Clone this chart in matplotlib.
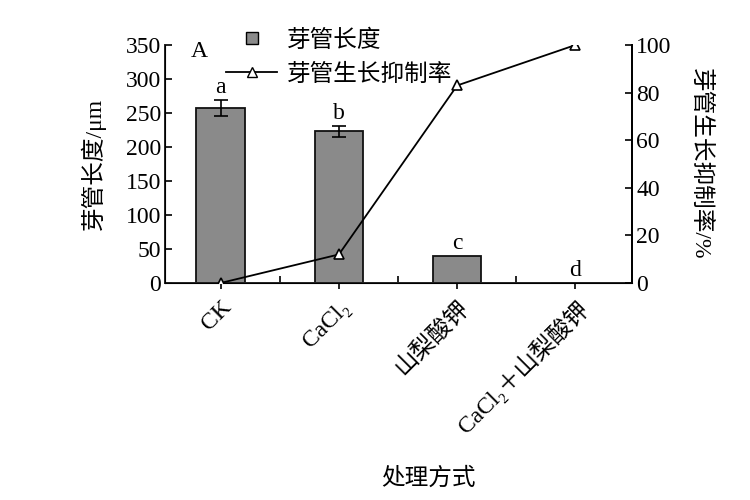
import matplotlib
matplotlib.use("Agg")
import matplotlib.pyplot as plt
from matplotlib.lines import Line2D
import numpy as np

plt.rcParams['font.family'] = ['Liberation Serif', 'Noto Sans CJK SC', 'DejaVu Sans']
plt.rcParams['mathtext.fontset'] = 'stix'

categories = ['CK', 'CaCl₂', '山梨酸钾', 'CaCl₂＋山梨酸钾']
lengths = [257, 223, 40, 0]
length_err = [12, 8, 0, 0]
letters = ['a', 'b', 'c', 'd']
inhibition = [0, 12, 83, 100]
left_ticks = [0, 50, 100, 150, 200, 250, 300, 350]
right_ticks = [0, 20, 40, 60, 80, 100]

fig = plt.figure(figsize=(7.5, 5), dpi=100)
ax = fig.add_axes([0.22, 0.434, 0.623, 0.476])
x = np.arange(len(categories))

ax.bar(x, lengths, width=0.41, color='#8a8a8a', edgecolor='#111111', linewidth=1.3, zorder=2)
ax.errorbar(x[:2], lengths[:2], yerr=length_err[:2], fmt='none', ecolor='black',
            elinewidth=1.2, capsize=5, capthick=1.2, zorder=3)
for xi, v, e, t in zip(x, lengths, length_err, letters):
    ax.text(xi, v + e + 3, t, ha='center', va='bottom', fontsize=17,
            family='Liberation Serif')

ax.set_xlim(-0.47, 3.48)
ax.set_ylim(0, 350)
ax.set_yticks(left_ticks)
ax.set_xticks(x)
ax.set_xticklabels(categories, rotation=45, ha='right', rotation_mode='anchor',
                   fontsize=17)
ax.set_xticks([0.5, 1.5, 2.5], minor=True)
ax.tick_params(axis='x', which='major', direction='out', length=4, width=1.2, pad=6)
ax.tick_params(axis='x', which='minor', direction='in', length=5, width=1.2)
ax.tick_params(axis='y', direction='in', length=5, width=1.2, labelsize=17, pad=3)
ax.spines['top'].set_visible(False)
for s in ['left', 'bottom', 'right']:
    ax.spines[s].set_linewidth(1.4)
    ax.spines[s].set_color('#222222')
ax.set_ylabel('芽管长度/μm', fontsize=17, labelpad=14)
ax.set_xlabel('处理方式', fontsize=17)
ax.xaxis.set_label_coords(0.563, -0.775)
ax.text(0.055, 1.015, 'A', transform=ax.transAxes, fontsize=17, va='top', ha='left')

ax2 = ax.twinx()
ax2.plot(x, inhibition, color='black', linewidth=1.3, marker='^', markersize=7,
         markerfacecolor='white', markeredgecolor='black', markeredgewidth=1.2, zorder=4)
ax2.set_ylim(0, 100)
ax2.set_yticks(right_ticks)
ax2.tick_params(axis='y', direction='in', length=5, width=1.2, labelsize=17, pad=3)
ax2.spines['top'].set_visible(False)
ax2.spines['right'].set_linewidth(1.4)
ax2.set_ylabel('芽管生长抑制率/%', fontsize=17, rotation=270, labelpad=28)

handles = [
    Line2D([], [], linestyle='none', marker='s', markersize=9,
           markerfacecolor='#8a8a8a', markeredgecolor='black'),
    Line2D([], [], color='black', linewidth=1.3, marker='^', markersize=7,
           markerfacecolor='white', markeredgecolor='black'),
]
fig.legend(handles, ['芽管长度', '芽管生长抑制率'], loc='upper left',
           bbox_to_anchor=(0.285, 0.965), frameon=False, fontsize=17,
           handlelength=2.2, handletextpad=0.4, labelspacing=0.5, borderpad=0)

fig.savefig('out.png', dpi=100)
